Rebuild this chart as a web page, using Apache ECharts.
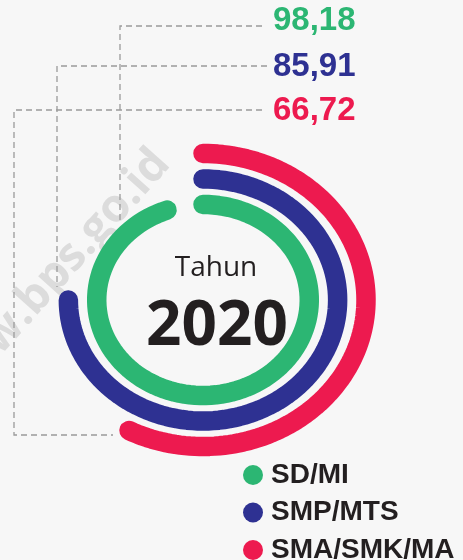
<!DOCTYPE html>
<html>
<head>
<meta charset="utf-8">
<script src="https://cdn.jsdelivr.net/npm/echarts@6/dist/echarts.min.js"></script>
<style>
  html, body { margin: 0; padding: 0; background: #f7f7f7; }
  #chart { width: 463px; height: 560px; }
</style>
</head>
<body>
<div id="chart"></div>
<script>
// data
const categories = ['SD/MI', 'SMP/MTS', 'SMA/SMK/MA'];
const values = [98.18, 85.91, 66.72];
// how far each ring runs in the picture, in % of a full turn (clockwise from 12 o'clock)
const arcShown = [94.5, 75, 57.5];
const year = '2020';

const colors = ['#2cb673', '#2e3192', '#ed1a4f'];
// ring centre lines, relative to the outer (red) ring
const ringRadius = [0.652, 0.826, 1];
// leader lines from each label to its ring end
const leaders = [
  [[262, 26], [120, 26], [120, 220]],
  [[267, 66], [57, 66], [57, 287]],
  [[262, 110], [14, 110], [14, 435], [113, 435]]
];
const labelY = [21, 67, 111];

const chart = echarts.init(document.getElementById('chart'), null, { renderer: 'canvas' });

const ringSeries = categories.map((name, i) => ({
  type: 'custom',
  name: name,
  coordinateSystem: 'cartesian2d',
  clip: false,
  silent: true,
  itemStyle: { color: colors[i] },
  data: [[arcShown[i]]],
  renderItem: (params, api) => {
    const sweep = api.value(0) / 100 * Math.PI * 2;
    const r = ringRadius[i];
    const pts = [];
    const n = 120;
    for (let k = 0; k <= n; k++) {
      const t = sweep * k / n;
      pts.push(api.coord([r * Math.sin(t), r * Math.cos(t)]));
    }
    return {
      type: 'polyline',
      shape: { points: pts },
      style: { stroke: colors[i], fill: null, lineWidth: 19.5, lineCap: 'round', lineJoin: 'round' }
    };
  }
}));

const graphics = [
  {
    type: 'text', z: 0, x: 162, y: 156, rotation: 0.84,
    style: {
      text: 'www.bps.go.id', align: 'right', verticalAlign: 'middle',
      fill: '#dcdcdc', font: 'bold 46px "Open Sans", sans-serif'
    }
  },
  ...leaders.map(p => ({
    type: 'polyline', z: 5,
    shape: { points: p },
    style: { stroke: '#9b9b9b', lineWidth: 1.3, lineDash: [6, 4], fill: null }
  })),
  ...values.map((v, i) => ({
    type: 'text', z: 5, x: 273, y: labelY[i],
    style: {
      text: v.toFixed(2).replace('.', ','), verticalAlign: 'middle',
      fill: colors[i], font: 'bold 33px "Liberation Sans", Arial, sans-serif'
    }
  })),
  {
    type: 'text', z: 5, x: 216, y: 268,
    style: {
      text: 'Tahun', align: 'center', verticalAlign: 'middle',
      fill: '#231f20', font: '28px "Open Sans", sans-serif'
    }
  },
  {
    type: 'text', z: 5, x: 217, y: 327,
    style: {
      text: year, align: 'center', verticalAlign: 'middle',
      fill: '#231f20', font: 'bold 62px "Open Sans", sans-serif'
    }
  }
];

const option = {
  backgroundColor: '#f7f7f7',
  animation: false,
  grid: { left: 40, top: 153.5, width: 326, height: 293 },
  xAxis: { type: 'value', min: -1, max: 1, show: false },
  yAxis: { type: 'value', min: -1, max: 1, show: false },
  legend: {
    orient: 'vertical',
    left: 243,
    top: 461,
    height: 200,
    padding: 0,
    icon: 'circle',
    itemWidth: 20,
    itemHeight: 20,
    itemGap: 9.5,
    selectedMode: false,
    data: categories,
    textStyle: {
      fontFamily: '"Liberation Sans", Arial, sans-serif',
      fontWeight: 'bold',
      fontSize: 28,
      lineHeight: 20,
      color: '#231f20',
      padding: [0, 0, 0, 3]
    }
  },
  series: ringSeries,
  graphic: graphics
};

chart.setOption(option);
</script>
</body>
</html>
